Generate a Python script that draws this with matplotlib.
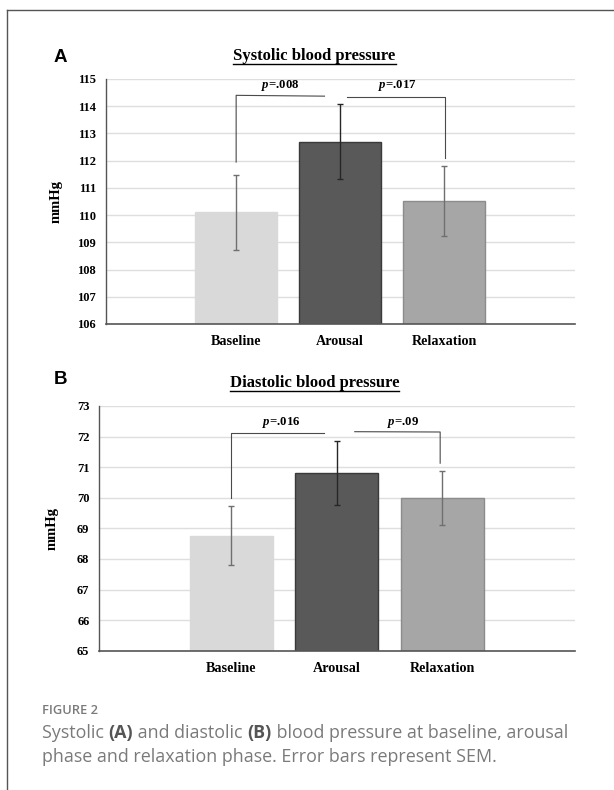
import matplotlib
matplotlib.use("Agg")
import matplotlib.pyplot as plt
from matplotlib.lines import Line2D

# data
conditions = ["Baseline", "Arousal", "Relaxation"]
sys_mean = [110.1, 112.7, 110.53]
sys_sem = [1.37, 1.37, 1.29]
dia_mean = [68.76, 70.82, 69.98]
dia_sem = [0.96, 1.05, 0.88]
sys_p = ["=.008", "=.017"]
dia_p = ["=.016", "=.09"]
# bracket heights (mmHg): [left foot, top, right foot]
sys_br1 = [111.95, 114.4, 114.37]
sys_br2 = [114.35, 114.35, 112.1]
dia_br1 = [70.0, 72.13, 72.13]
dia_br2 = [72.16, 72.15, 71.13]

bar_colors = ["#d9d9d9", "#595959", "#a6a6a6"]
edge_colors = ["#d9d9d9", "#3a3a3a", "#8c8c8c"]
err_colors = ["#6f6f6f", "#262626", "#6f6f6f"]

plt.rcParams["mathtext.fontset"] = "custom"
plt.rcParams["mathtext.it"] = "Liberation Serif:italic:bold"
plt.rcParams["mathtext.rm"] = "Liberation Serif:bold"

serif = "Liberation Serif"
W, H = 614, 790

fig = plt.figure(figsize=(6.14, 7.90), dpi=100)

# card border (left + top)
fig.add_artist(Line2D([7/W, 7/W], [0, 1 - 10/H], color="#555555", lw=1.0))
fig.add_artist(Line2D([7/W, 1], [1 - 10/H, 1 - 10/H], color="#555555", lw=1.0))


def panel(rect, means, sems, ylim, title, title_x, pvals, br1, br2, br_x, txt_x, labx):
    ax = fig.add_axes(rect)
    x = list(range(len(conditions)))
    for i in x:
        ax.bar(i, means[i], width=0.79, color=bar_colors[i], edgecolor=edge_colors[i],
               linewidth=1.0, zorder=2)
        ax.errorbar(i, means[i], yerr=sems[i], color=err_colors[i], capsize=2,
                    elinewidth=1.0, capthick=1.0, zorder=3)
    ax.set_xlim(-1.255, 3.257)
    ax.set_ylim(*ylim)
    ax.set_yticks(range(ylim[0], ylim[1] + 1))
    ax.set_xticks(x)
    ax.set_xticklabels(conditions, fontfamily=serif, fontweight="bold", fontsize=10.2)
    for lab in ax.get_yticklabels():
        lab.set_fontfamily(serif)
        lab.set_fontweight("bold")
        lab.set_fontsize(9)
    ax.tick_params(axis="x", length=0, pad=8)
    ax.tick_params(axis="y", length=0, pad=7)
    ax.grid(axis="y", color="#dedede", lw=1.0, zorder=0)
    ax.set_axisbelow(True)
    for s in ["top", "right"]:
        ax.spines[s].set_visible(False)
    ax.spines["left"].set_color("#555555")
    ax.spines["bottom"].set_color("#555555")
    ax.spines["left"].set_linewidth(1.0)
    ax.spines["bottom"].set_linewidth(1.2)
    ax.set_ylabel("mmHg", fontfamily=serif, fontweight="bold", fontsize=10.5)
    ax.yaxis.set_label_coords(labx, 0.5)

    # significance brackets
    ax.plot([br_x[0], br_x[0], br_x[1]], br1, color="#4a4a4a", lw=0.8, zorder=4)
    ax.plot([br_x[2], br_x[3], br_x[3]], br2, color="#4a4a4a", lw=0.8, zorder=4)
    ytxt = max(br1[1], br2[1]) + (ylim[1] - ylim[0]) * 0.01
    for tx, p in zip(txt_x, pvals):
        ax.text(tx, ytxt, r"$\mathit{p}$" + p, ha="center", va="bottom",
                fontfamily=serif, fontweight="bold", fontsize=9.2)

    t = ax.set_title(title, fontfamily=serif, fontweight="bold", fontsize=12, pad=14)
    t.set_x(title_x)
    return ax, t


axA, tA = panel([105.7/W, 1 - 324/H, 469/W, 245/H], sys_mean, sys_sem, (106, 115),
                "Systolic blood pressure", 0.445, sys_p, sys_br1, sys_br2,
                [0.0, 0.85, 1.07, 2.01], [0.42, 1.55], -0.092)
axB, tB = panel([99.1/W, 1 - 650.7/H, 475.7/W, 244.7/H], dia_mean, dia_sem, (65, 73),
                "Diastolic blood pressure", 0.4526, dia_p, dia_br1, dia_br2,
                [0.0, 0.88, 1.17, 1.98], [0.47, 1.63], -0.085)

fig.text(54/W, 1 - 57/H, "A", fontfamily="Liberation Sans", fontweight="bold",
         fontsize=13.5, va="center", ha="left")
fig.text(54/W, 1 - 379/H, "B", fontfamily="Liberation Sans", fontweight="bold",
         fontsize=13.5, va="center", ha="left")

# underline the titles
fig.canvas.draw()
r = fig.canvas.get_renderer()
for t in (tA, tB):
    bb = t.get_window_extent(r)
    y = (bb.y0 - 0.5) / fig.bbox.height
    fig.add_artist(Line2D([bb.x0 / fig.bbox.width, bb.x1 / fig.bbox.width], [y, y],
                          color="black", lw=1.0))

# caption
fig.text(42/W, 1 - 711/H, "FIGURE 2", fontfamily="Open Sans", fontweight="semibold",
         fontsize=9.3, color="#7a7a7a", va="center")


def caption_line(pieces, x0, y):
    x = x0
    for txt, bold in pieces:
        t = fig.text(x / W, 1 - y / H, txt, fontfamily="Open Sans",
                     fontweight="bold" if bold else "normal", fontsize=12.9,
                     color="#555555" if bold else "#7a7a7a", va="center")
        bb = t.get_window_extent(fig.canvas.get_renderer())
        x = x + bb.width


caption_line([("Systolic ", False), ("(A)", True), (" and diastolic ", False),
              ("(B)", True), (" blood pressure at baseline, arousal", False)], 42, 733)
caption_line([("phase and relaxation phase. Error bars represent SEM.", False)], 42, 757)

fig.savefig("out.png", dpi=100)
